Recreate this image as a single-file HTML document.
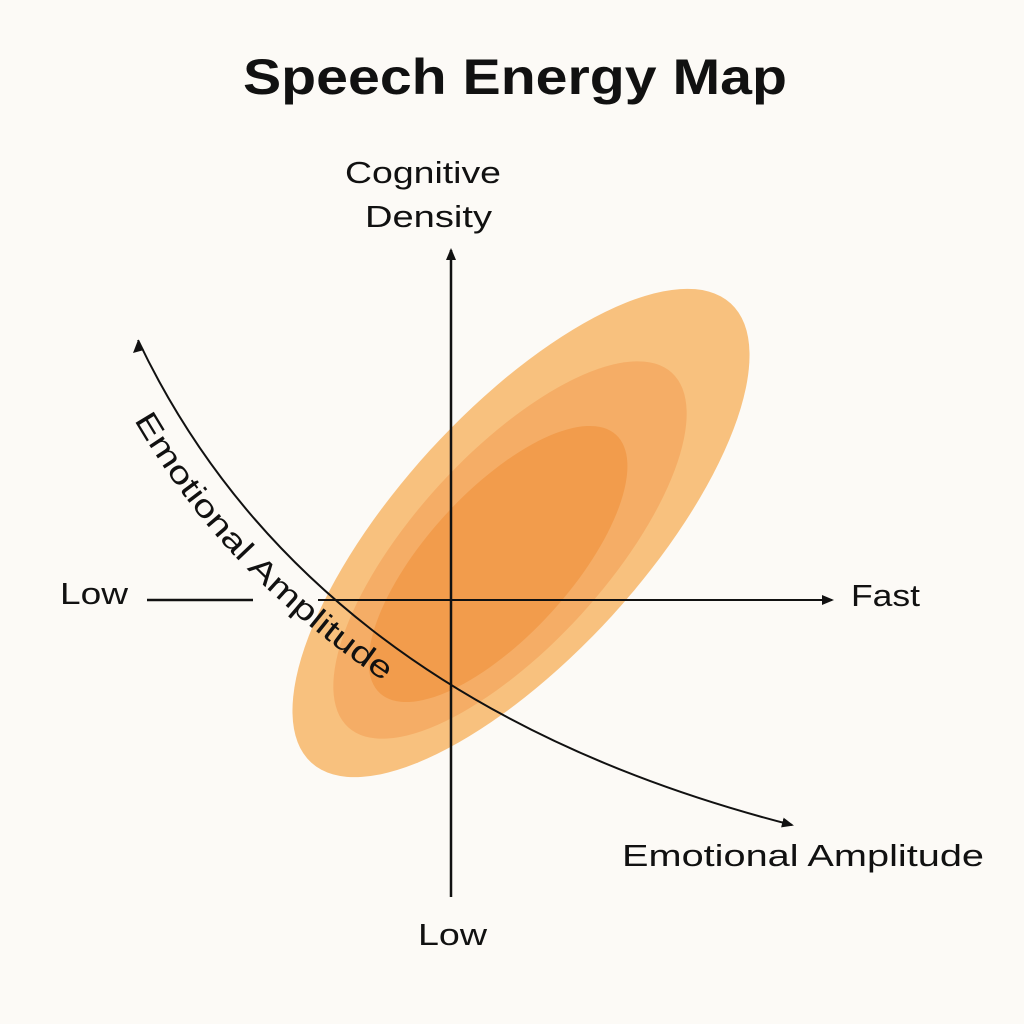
<!DOCTYPE html>
<html><head><meta charset="utf-8"><style>
html,body{margin:0;padding:0;background:#fcfaf6;}
svg{display:block;}
text{font-family:"Liberation Sans",sans-serif;fill:#111;}
</style></head><body>
<svg width="1024" height="1024" viewBox="0 0 1024 1024">
<defs>
<marker id="ah" markerWidth="12" markerHeight="10" refX="10" refY="5" orient="auto" markerUnits="userSpaceOnUse">
<path d="M0,0 L12,5 L0,10 Z" fill="#111"/></marker>
<path id="tp" d="M134,420 C 190,515 260,600 400,692"/>
</defs>
<rect width="1024" height="1024" fill="#fcfaf6"/>
<text x="243" y="94" font-size="50" font-weight="bold" textLength="544" lengthAdjust="spacingAndGlyphs">Speech Energy Map</text>
<g transform="translate(521,533) rotate(-47.6)"><ellipse cx="0" cy="0" rx="311" ry="123" fill="#f8c17e"/></g>
<g transform="translate(510,550) rotate(-47.6)"><ellipse cx="0" cy="0" rx="240" ry="96" fill="#f5ad66"/></g>
<g transform="translate(498,564) rotate(-47.6)"><ellipse cx="0" cy="0" rx="175" ry="72" fill="#f29c4c"/></g>
<line x1="451" y1="897" x2="451" y2="250" stroke="#111" stroke-width="2.5" marker-end="url(#ah)"/>
<line x1="318" y1="600" x2="832" y2="600" stroke="#111" stroke-width="2" marker-end="url(#ah)"/>
<line x1="147" y1="600" x2="253" y2="600" stroke="#111" stroke-width="2.5"/>
<path d="M138,340 C 240,555 440,735 792,825" fill="none" stroke="#111" stroke-width="2" marker-start="url(#ahs)" marker-end="url(#ah)"/>
<path d="M138,340 L141,353" fill="none" stroke="none"/>
<polygon points="138,340 133,353 144,350" fill="#111"/>
<text font-size="31"><textPath href="#tp" textLength="365" lengthAdjust="spacingAndGlyphs">Emotional Amplitude</textPath></text>
<text x="345" y="183" font-size="31" textLength="156" lengthAdjust="spacingAndGlyphs">Cognitive</text>
<text x="365" y="227" font-size="31" textLength="127" lengthAdjust="spacingAndGlyphs">Density</text>
<text x="60" y="604" font-size="31" textLength="68" lengthAdjust="spacingAndGlyphs">Low</text>
<text x="851" y="606" font-size="31" textLength="69" lengthAdjust="spacingAndGlyphs">Fast</text>
<text x="622" y="866" font-size="31" textLength="362" lengthAdjust="spacingAndGlyphs">Emotional Amplitude</text>
<text x="418" y="945" font-size="31" textLength="69" lengthAdjust="spacingAndGlyphs">Low</text>
</svg>
</body></html>
